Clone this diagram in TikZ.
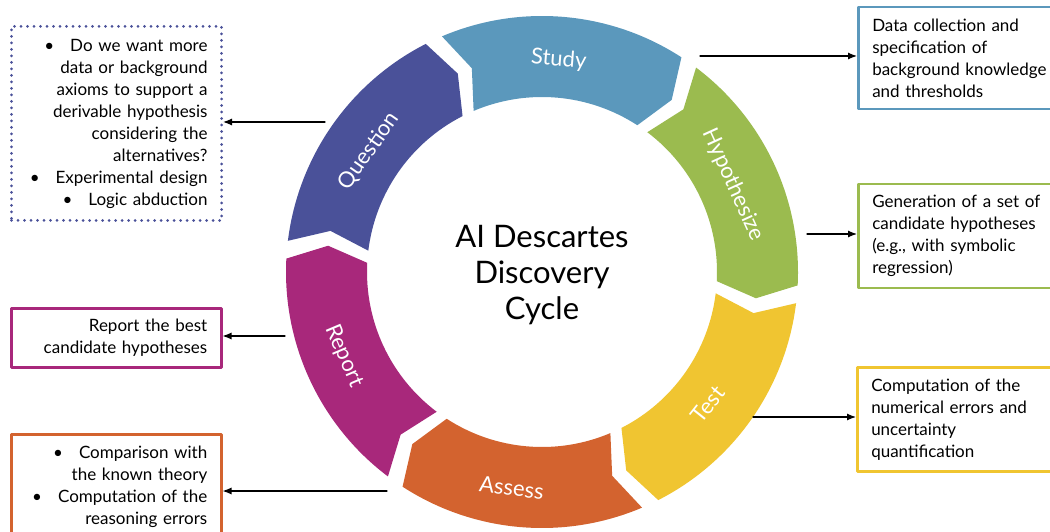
\documentclass[tikz,border=0pt]{standalone}
\usepackage{fontspec}
\setmainfont{Lato}
\usetikzlibrary{arrows.meta,calc}
\definecolor{studyblue}{HTML}{5B98BC}
\definecolor{hypgreen}{HTML}{9BBB4F}
\definecolor{testyellow}{HTML}{F0C531}
\definecolor{assessorange}{HTML}{D3632F}
\definecolor{reportmagenta}{HTML}{A8287B}
\definecolor{questionblue}{HTML}{4A5199}
\newcommand{\bul}{\textbullet\hspace{16pt}}
\begin{document}
\begin{tikzpicture}[x=1pt,y=1pt,line cap=round,line join=round,>={Latex[length=9pt,width=7pt]},
    seglabel/.style={text=white,font=\fontsize{22}{24}\selectfont},
    infobox/.style={draw,line width=2.5pt,inner xsep=14pt,inner ysep=0pt,font=\fontsize{17}{22}\selectfont},
    rightbox/.style={infobox,anchor=north west,align=left,text width=200,minimum height=104},
    leftbox/.style={infobox,anchor=north west,align=right,text width=182},
    dotborder/.style={dash pattern=on 0pt off 6.5pt,line width=3pt},
    link/.style={->,line width=1.2pt}]
        \clip (0,0) rectangle (1050,531);
        % ring of chevrons
        \begin{scope}[shift={(542,259)}]
            \foreach \t/\col in {113/studyblue,53/hypgreen,-7/testyellow,-67/assessorange,-127/reportmagenta,173/questionblue}
                \fill[\col] (\t:256) arc[start angle=\t,end angle=\t-56,radius=256] -- (\t-60:215.5) -- (\t-56:175)
                    arc[start angle=\t-56,end angle=\t,radius=175] -- (\t-4:215.5) -- cycle;
            \node[seglabel,rotate=-4.5] (study) at (85.5:213) {Study};
            \node[seglabel,rotate=-65.5] (hyp) at (24.5:210) {Hypothesize};
            \node[seglabel,rotate=51.5] (test) at (-38.5:212) {Test};
            \node[seglabel,rotate=-7] (assess) at (-98:218) {Assess};
            \node[seglabel,rotate=-67] (report) at (203:215) {Report};
            \node[seglabel,rotate=55] (question) at (145:211) {Question};
            \node[align=center,font=\fontsize{31}{36}\selectfont] (title) at (0,-3) {AI Descartes\\Discovery\\Cycle};
        \end{scope}
        % boxes on the right
        \node[rightbox,draw=studyblue,minimum height=102] (sbox) at (857,525) {Data collection and\\specification of\\background knowledge\\and thresholds};
        \node[rightbox,draw=hypgreen] (hbox) at (857,348) {Generation of a set of\\candidate hypotheses\\(e.g., with symbolic\\regression)};
        \node[rightbox,draw=testyellow] (tbox) at (856,165) {Computation of the\\numerical errors and\\uncertainty\\quantification};
        % boxes on the left
        \node[leftbox,draw=questionblue,dotborder,minimum height=194] (qbox) at (10,506) {\bul Do we want more\\data or background\\axioms to support a\\derivable hypothesis\\considering the\\alternatives?\\ \bul Experimental design\\ \bul Logic abduction};
        \node[leftbox,draw=reportmagenta,minimum height=59] (rbox) at (10,224) {Report the best\\candidate hypotheses};
        \node[leftbox,draw=assessorange,minimum height=106] (abox) at (10,98) {\bul Comparison with\\the known theory\\ \bul Computation of the\\reasoning errors};
        % arrows
        \coordinate (studyout) at (700,475);
        \coordinate (hypout) at (807,297);
        \coordinate (testout) at (753,114);
        \coordinate (questionout) at (325,409);
        \coordinate (reportout) at (285,195);
        \coordinate (assessout) at (387,40);
        \draw[link] (studyout) -- (studyout -| sbox.west);
        \draw[link] (hypout) -- (hypout -| hbox.west);
        \draw[link] (testout) -- (testout -| tbox.west);
        \draw[link] (questionout) -- (questionout -| qbox.east);
        \draw[link] (reportout) -- (reportout -| rbox.east);
        \draw[link] (assessout) -- (assessout -| abox.east);
    \end{tikzpicture}
\end{document}
